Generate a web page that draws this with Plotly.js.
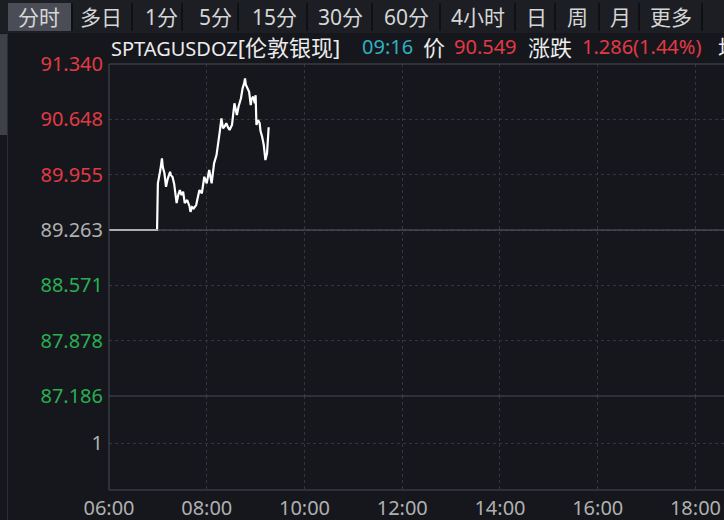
<!DOCTYPE html>
<html><head><meta charset="utf-8">
<script src="https://cdn.plot.ly/plotly-3.0.1.min.js"></script>
<style>html,body{margin:0;padding:0;background:#15171c;}#chart{width:724px;height:520px;}</style>
</head><body><div id="chart"></div>
<script>
// ---- data ----
const times = ['06:00','06:59','07:00','07:02','07:03','07:05','07:06','07:08','07:10','07:12','07:15','07:16','07:18','07:20','07:21','07:23','07:25','07:27','07:29','07:31','07:33','07:36','07:39','07:40','07:42','07:44','07:47','07:49','07:51','07:54','07:57','08:00','08:03','08:06','08:09','08:12','08:14','08:16','08:18','08:20','08:22','08:24','08:26','08:28','08:31','08:34','08:37','08:39','08:42','08:44','08:46','08:47','08:48','08:50','08:52','08:54','08:55','08:57','08:59','09:00','09:01','09:03','09:05','09:06','09:08','09:10','09:11','09:12','09:14','09:15','09:16'];
const prices = [89.263,89.263,89.847,89.95,90.013,90.160,90.05,89.976,89.804,89.90,89.992,89.95,89.926,89.84,89.763,89.600,89.70,89.763,89.70,89.742,89.600,89.638,89.554,89.491,89.55,89.534,89.575,89.66,89.763,89.722,89.929,89.847,90.013,89.847,90.097,90.201,90.326,90.493,90.660,90.535,90.56,90.598,90.55,90.514,90.577,90.848,90.702,90.806,90.911,91.036,91.10,91.161,91.08,91.036,90.993,90.827,90.90,90.931,90.848,90.95,90.577,90.639,90.598,90.50,90.430,90.326,90.25,90.138,90.222,90.368,90.549];
const priceTicks = [91.340, 90.648, 89.955, 89.263, 88.571, 87.878, 87.186];
const prevClose = 89.263;
const volumeTicks = [1];
const timeTicks = ['06:00','08:00','10:00','12:00','14:00','16:00','18:00'];
const tabs = ['分时','多日','1分','5分','15分','30分','60分','4小时','日','周','月','更多'];
const symbolCode = 'SPTAGUSDOZ';
const symbolName = '[伦敦银现]';
const quoteTime = '09:16';
const lastPrice = '90.549';
const change = '1.286(1.44%)';

// ---- layout helpers ----
const DAY = '2024-01-01 ';
const L = 109, R = 724, T = 64, B = 490;
const W = R - L, H = B - T;
const px = v => (v - L) / W;
const py = v => (B - v) / H;
const RED = '#e23a44', GREEN = '#2aae52', GREY = '#b0b0b0', CYAN = '#2fb0c0', WHITE = '#ececec';
const FONT = 'Noto Sans, Noto Sans CJK SC, sans-serif';

const tickColor = v => v > prevClose + 1e-9 ? RED : (v < prevClose - 1e-9 ? GREEN : GREY);
const priceTickText = priceTicks.map(v => '<span style="color:' + tickColor(v) + '">' + v.toFixed(3) + '</span>');

const traces = [
  {x: times.map(t => DAY + t), y: prices, type: 'scatter', mode: 'lines',
   line: {color: '#ffffff', width: 2.2}, xaxis: 'x', yaxis: 'y', hoverinfo: 'skip'},
  {x: [], y: [], type: 'bar', xaxis: 'x', yaxis: 'y2', marker: {color: '#888'}}
];

const paneSplit = py(396);

const tabCenters = [39, 101, 161, 215, 274, 340, 406, 478, 536, 577, 620, 671];
const tabSeps = [72, 132, 182, 238, 307, 372, 440, 515, 555, 599, 639, 702];

const shapes = [
  {type:'rect', xref:'paper', yref:'paper', x0:px(0), x1:px(724), y0:py(0), y1:py(33), fillcolor:'#1c1e24', line:{width:0}, layer:'below'},
  {type:'rect', xref:'paper', yref:'paper', x0:px(8), x1:px(71), y0:py(3), y1:py(31), fillcolor:'#4a4d56', line:{width:0}, layer:'below'},
  {type:'rect', xref:'paper', yref:'paper', x0:px(0), x1:px(7), y0:py(34), y1:py(135), fillcolor:'#3e4148', line:{width:0}, layer:'below'},
  {type:'line', xref:'paper', yref:'paper', x0:px(7.5), x1:px(7.5), y0:py(33), y1:py(520), line:{color:'#2a2d34', width:1}},
  // frame
  {type:'line', xref:'paper', yref:'paper', x0:0, x1:1, y0:1, y1:1, line:{color:'#4a4d55', width:1}},
  {type:'line', xref:'paper', yref:'paper', x0:0, x1:0, y0:0, y1:1, line:{color:'#4a4d55', width:1}},
  {type:'line', xref:'paper', yref:'paper', x0:0, x1:1, y0:0, y1:0, line:{color:'#4a4d55', width:1}},
  // prev close and pane divider
  {type:'line', xref:'paper', yref:'y', x0:0, x1:1, y0:prevClose, y1:prevClose, line:{color:'#5c5f67', width:1}},
  {type:'line', xref:'paper', yref:'paper', x0:0, x1:1, y0:paneSplit, y1:paneSplit, line:{color:'#4a4d55', width:1}}
];
tabSeps.forEach(s => shapes.push({type:'line', xref:'paper', yref:'paper', x0:px(s), x1:px(s), y0:py(3), y1:py(31), line:{color:'#0f1014', width:2}}));

const annotations = [];
tabs.forEach((t, i) => annotations.push({xref:'paper', yref:'paper', x:px(tabCenters[i]), y:py(17), xanchor:'center', yanchor:'middle',
  text:t, showarrow:false, font:{family:FONT, size:21, color:'#d6d6d6'}}));
const cjk = s => '<span style="font-size:22px">' + s + '</span>';
const headRow = [
  [109, symbolCode + cjk(symbolName), WHITE, 20], [360, quoteTime, CYAN, 20], [421, cjk('价'), WHITE, 20], [452, lastPrice, RED, 20],
  [526, cjk('涨跌'), WHITE, 20], [580, change, RED, 20], [716, cjk('均价'), WHITE, 20]
];
headRow.forEach(h => annotations.push({xref:'paper', yref:'paper', x:px(h[0]), y:py(47), xanchor:'left', yanchor:'middle',
  text:h[1], showarrow:false, font:{family:FONT, size:h[3], color:h[2]}}));

const layout = {
  width: 724, height: 520,
  margin: {l: L, r: 724 - R, t: T, b: 520 - B, pad: 0},
  paper_bgcolor: '#15171c', plot_bgcolor: '#15171c',
  showlegend: false,
  font: {family: FONT, color: GREY, size: 19},
  xaxis: {type:'date', anchor:'y2', range:[DAY + '06:00', DAY + '18:35'],
    tickvals: timeTicks.map(t => DAY + t), ticktext: timeTicks,
    showgrid:true, gridcolor:'#33363e', griddash:'dot', gridwidth:1,
    showline:false, zeroline:false, ticks:'', tickfont:{size:20, color:GREY}, ticklabelstandoff: 4},
  yaxis: {domain:[paneSplit, 1], range:[priceTicks[priceTicks.length-1], priceTicks[0]],
    tickvals: priceTicks, ticktext: priceTickText, showgrid:true, gridcolor:'#33363e', griddash:'dot',
    zeroline:false, showline:false, ticks:'', tickfont:{size:20}, ticklabelstandoff: 5},
  yaxis2: {domain:[0, paneSplit], range:[0, 2], tickvals: volumeTicks, ticktext: volumeTicks.map(String),
    showgrid:true, gridcolor:'#33363e', griddash:'dot', zeroline:false, showline:false, ticks:'',
    tickfont:{size:20, color:GREY}, ticklabelstandoff: 5},
  shapes: shapes,
  annotations: annotations
};

Plotly.newPlot('chart', traces, layout, {staticPlot: true, displayModeBar: false});
</script>
</body></html>
